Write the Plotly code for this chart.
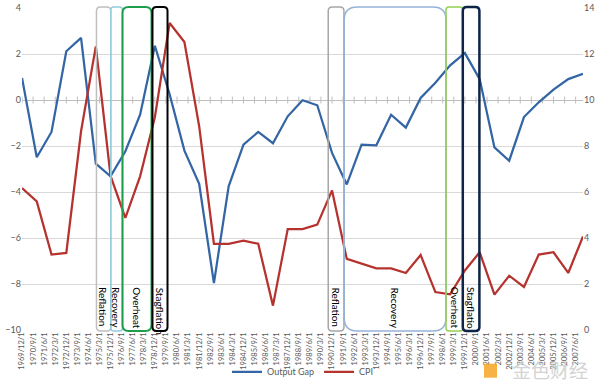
import plotly.graph_objects as go
import pandas as pd

# ---------------- data ----------------
years = list(range(1969, 2008))
output_gap = [0.96, -2.49, -1.39, 2.12, 2.70, -2.77, -3.32, -2.23, -0.64, 2.36,
              0.25, -2.20, -3.64, -7.96, -3.75, -1.94, -1.39, -1.88, -0.71, -0.01,
              -0.23, -2.30, -3.67, -1.94, -1.97, -0.64, -1.20, 0.09, 0.75, 1.51,
              2.04, 0.91, -2.06, -2.64, -0.74, -0.10, 0.45, 0.91, 1.14]
cpi = [6.17, 5.59, 3.28, 3.35, 8.64, 12.33, 6.70, 4.87, 6.68, 9.25,
       13.35, 12.52, 8.86, 3.75, 3.75, 3.88, 3.75, 1.06, 4.39, 4.39,
       4.58, 6.07, 3.09, 2.87, 2.68, 2.68, 2.48, 3.26, 1.65, 1.55,
       2.59, 3.38, 1.54, 2.36, 1.87, 3.28, 3.38, 2.48, 4.07]
tick_labels = ["1969/12/1", "1970/9/1", "1971/6/1", "1972/3/1", "1972/12/1", "1973/9/1",
               "1974/6/1", "1975/3/1", "1975/12/1", "1976/9/1", "1977/6/1", "1978/3/1",
               "1978/12/1", "1979/9/1", "1980/6/1", "1981/3/1", "1981/12/1", "1982/9/1",
               "1983/6/1", "1984/3/1", "1984/12/1", "1985/9/1", "1986/6/1", "1987/3/1",
               "1987/12/1", "1988/9/1", "1989/6/1", "1990/3/1", "1990/12/1", "1991/9/1",
               "1992/6/1", "1993/3/1", "1993/12/1", "1994/9/1", "1995/6/1", "1996/3/1",
               "1996/12/1", "1997/9/1", "1998/6/1", "1999/3/1", "1999/12/1", "2000/9/1",
               "2001/6/1", "2002/3/1", "2002/12/1", "2003/9/1", "2004/6/1", "2005/3/1",
               "2005/12/1", "2006/9/1", "2007/6/1"]
phase_names = ["Reflation", "Recovery", "Overheat", "Stagflation",
               "Reflation", "Recovery", "Overheat", "Stagflatio"]
phase_starts = ["1974-12-17", "1975-12-06", "1976-09-21", "1978-10-03",
                "1990-08-29", "1991-09-29", "1998-08-21", "1999-10-10"]
phase_ends = ["1975-12-06", "1976-09-21", "1978-09-09", "1979-10-10",
              "1991-09-22", "1998-08-21", "1999-10-10", "2000-11-24"]

# ---------------- styles ----------------
phase_colors = ["#BFBFBF", "#92CDDC", "#1E9E4A", "#000000",
                "#A6A6A6", "#95B3D7", "#92D050", "#0F2449"]
phase_widths = [1.5, 1.5, 2, 2, 1.5, 1.5, 1.5, 2.5]
phase_radius_px = [4, 3, 6, 4, 4, 13, 3, 4]

dates = [pd.Timestamp(f"{y}-12-01") for y in years]
tick_dates = [pd.Timestamp(f"{s.split('/')[0]}-{int(s.split('/')[1]):02d}-01") for s in tick_labels]

px_per_year = 14.75
plot_h = 322.0

fig = go.Figure()

fig.add_trace(go.Scatter(x=tick_dates, y=[0] * len(tick_dates), mode="markers",
                         marker=dict(symbol="line-ns", size=5, line=dict(color="#BFBFBF", width=1)),
                         showlegend=False, hoverinfo="skip"))
fig.add_trace(go.Scatter(x=dates, y=output_gap, mode="lines", name="Output Gap",
                         line=dict(color="#3465A4", width=2.25)))
fig.add_trace(go.Scatter(x=dates, y=cpi, mode="lines", name="CPI", yaxis="y2",
                         line=dict(color="#B5332E", width=2.25)))


def fmt(ts):
    return ts.strftime("%Y-%m-%d_%H:%M:%S")


shapes = []
annotations = []
y0, y1 = -0.003, 1.003
for name, s, e, c, w, r in zip(phase_names, phase_starts, phase_ends,
                                phase_colors, phase_widths, phase_radius_px):
    x0 = pd.Timestamp(s)
    x1 = pd.Timestamp(e)
    rx = pd.Timedelta(days=r / px_per_year * 365.25)
    ry = r / plot_h
    path = (f"M {fmt(x0 + rx)},{y0} L {fmt(x1 - rx)},{y0} Q {fmt(x1)},{y0} {fmt(x1)},{y0 + ry} "
            f"L {fmt(x1)},{y1 - ry} Q {fmt(x1)},{y1} {fmt(x1 - rx)},{y1} "
            f"L {fmt(x0 + rx)},{y1} Q {fmt(x0)},{y1} {fmt(x0)},{y1 - ry} "
            f"L {fmt(x0)},{y0 + ry} Q {fmt(x0)},{y0} {fmt(x0 + rx)},{y0} Z")
    shapes.append(dict(type="path", path=path, xref="x", yref="paper",
                       line=dict(color=c, width=w), layer="above"))
    xm = x0 + (x1 - x0) / 2
    annotations.append(dict(x=xm, y=-8.05, xref="x", yref="y", text=name, textangle=90,
                            showarrow=False, yanchor="top", xanchor="center",
                            font=dict(family="Lato, sans-serif", size=10, color="#000000")))

# watermark
annotations.append(dict(x=(550 - 22) / 561, y=(330.3 - 370) / plot_h, xref="paper", yref="paper",
                        text="金色财经", showarrow=False, xanchor="center", yanchor="middle",
                        font=dict(family="Noto Sans CJK SC", size=19, color="#D3D3D3")))
shapes.append(dict(type="rect", xref="paper", yref="paper",
                   x0=(484 - 22) / 561, x1=(497 - 22) / 561,
                   y0=(330.3 - 378) / plot_h, y1=(330.3 - 364) / plot_h,
                   fillcolor="#F5A623", line=dict(width=0), opacity=0.85))

fig.update_layout(
    width=600, height=392,
    margin=dict(l=22, r=17, t=8, b=62, autoexpand=False),
    paper_bgcolor="white", plot_bgcolor="white",
    font=dict(family="Lato, sans-serif", size=9, color="#595959"),
    shapes=shapes, annotations=annotations,
    xaxis=dict(type="date", range=[dates[0], dates[-1]], tickvals=tick_dates, ticktext=tick_labels,
               tickangle=-90, showgrid=False, zeroline=False, showline=False, ticks="",
               automargin=False, tickfont=dict(size=7.5, color="#595959")),
    yaxis=dict(range=[-10, 4], dtick=2, showgrid=True, gridcolor="#D9D9D9", gridwidth=1,
               zeroline=True, zerolinecolor="#BFBFBF", zerolinewidth=1, ticks="",
               automargin=False, tickfont=dict(size=9, color="#595959")),
    yaxis2=dict(range=[0, 14], dtick=2, overlaying="y", side="right", showgrid=False,
                zeroline=False, ticks="", automargin=False,
                tickfont=dict(size=9, color="#595959")),
    legend=dict(orientation="h", x=0.5, xanchor="center", y=-0.13, yanchor="middle",
                font=dict(size=9, color="#595959"), bgcolor="rgba(0,0,0,0)"),
    showlegend=True,
)

fig.write_html("out.html", config={"displayModeBar": False},
               post_script="document.body.style.margin='0';")
